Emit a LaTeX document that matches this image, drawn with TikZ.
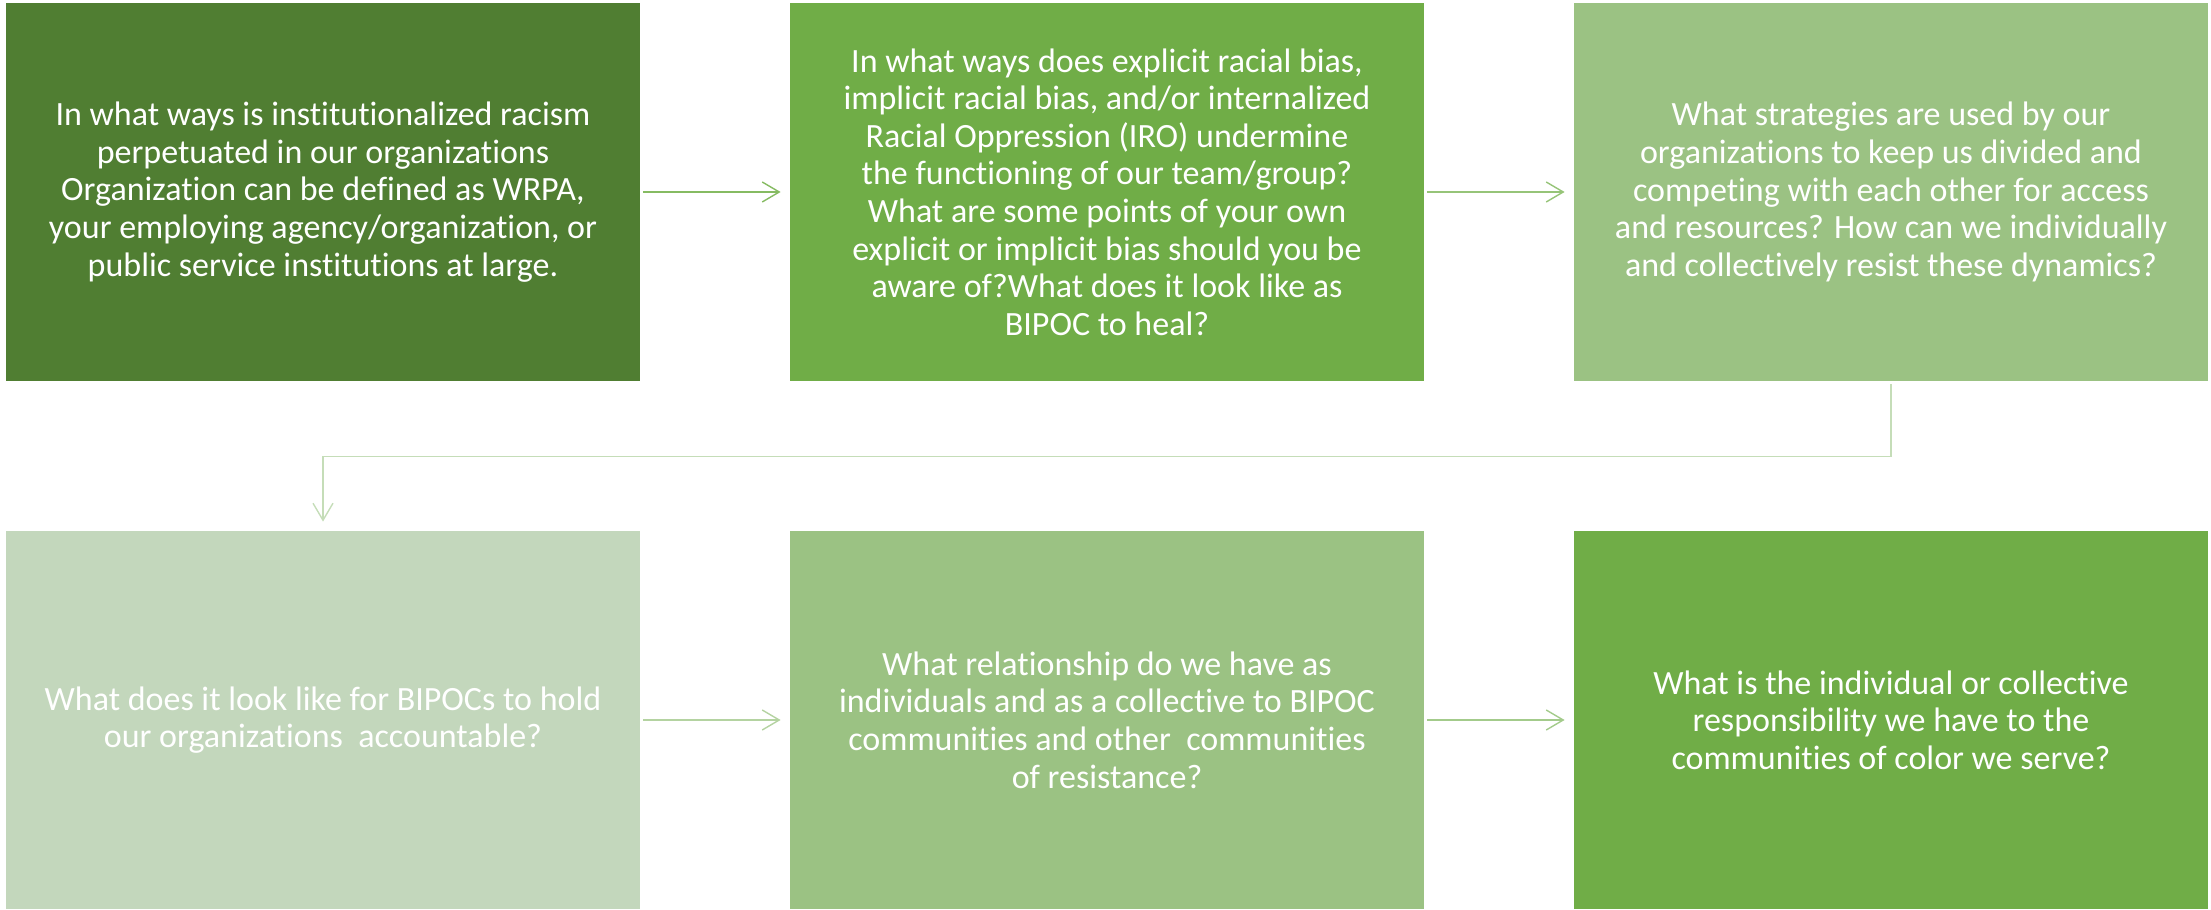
\documentclass[tikz,border=0pt]{standalone}
\usepackage{fontspec}
\setmainfont{Carlito}[Ligatures=NoCommon]
\usetikzlibrary{arrows.meta}
\definecolor{gDark}{HTML}{507E32}
\definecolor{gMid}{HTML}{70AD47}
\definecolor{gLight}{HTML}{9BC283}
\definecolor{gPale}{HTML}{C3D7BC}
\begin{document}
\begin{tikzpicture}[x=0.5pt,y=0.5pt,
  qbox/.style={shape=rectangle,minimum width=317pt,minimum height=189pt,inner sep=0pt,align=center,text=white,font=\fontsize{17}{18.8}\selectfont},
  link/.style={line width=0.7pt,-{Straight Barb[length=8.5pt,width=10pt]},shorten <=1.5pt,shorten >=4.5pt}]
\def\cxa{323};
\def\cxb{1107};
\def\cxc{1891};
\def\rya{718};
\def\ryb{190};

\useasboundingbox (0,0) rectangle (2211,910);

\node[qbox,fill=gDark] (q1) at (\cxa,\rya) {In what ways is institutionalized racism\\perpetuated in our organizations\\Organization can be defined as WRPA,\\your employing agency/organization, or\\public service institutions at large.};
\node[qbox,fill=gMid] (q2) at (\cxb,\rya) {In what ways does explicit racial bias,\\implicit racial bias, and/or internalized\\Racial Oppression (IRO) undermine\\the functioning of our team/group?\\What are some points of your own\\explicit or implicit bias should you be\\aware of?What does it look like as\\BIPOC to heal?};
\draw[link,color={rgb,255:red,134;green,187;blue,98}] (q1.east) -- (q2.west);
\node[qbox,fill=gLight] (q3) at (\cxc,\rya) {What strategies are used by our\\organizations to keep us divided and\\competing with each other for access\\and resources? How can we individually\\and collectively resist these dynamics?};
\draw[link,color={rgb,255:red,150;green,196;blue,120}] (q2.east) -- (q3.west);

\node[qbox,fill=gPale] (q4) at (\cxa,\ryb) {What does it look like for BIPOCs to hold\\our organizations\ \ accountable?};
\draw[link,color={rgb,255:red,197;green,221;blue,184}] (q3.south) -- ++(0,-75) -| (q4.north);
\node[qbox,fill=gLight] (q5) at (\cxb,\ryb) {What relationship do we have as\\individuals and as a collective to BIPOC\\communities and other\ \ communities\\of resistance?};
\draw[link,color={rgb,255:red,180;green,211;blue,161}] (q4.east) -- (q5.west);
\node[qbox,fill=gMid] (q6) at (\cxc,\ryb) {What is the individual or collective\\responsibility we have to the\\communities of color we serve?};
\draw[link,color={rgb,255:red,163;green,203;blue,139}] (q5.east) -- (q6.west);
\end{tikzpicture}
\end{document}
